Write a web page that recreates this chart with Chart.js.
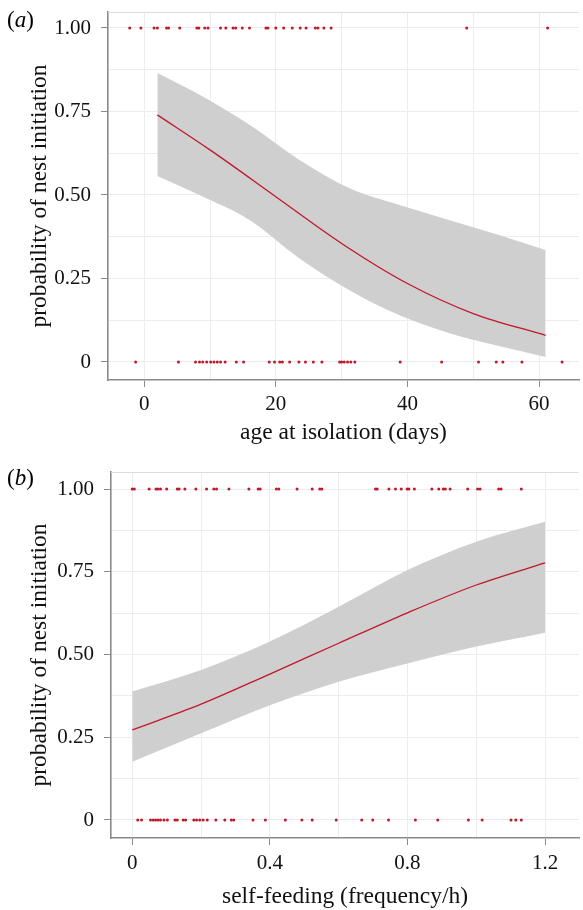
<!DOCTYPE html>
<html><head><meta charset="utf-8">
<script src="https://cdn.jsdelivr.net/npm/chart.js@4.4.0/dist/chart.umd.min.js"></script>
<style>
html,body{margin:0;padding:0;background:#fff;}
#wrap{position:relative;width:583px;height:910px;overflow:hidden;}
.panel{position:absolute;left:0;width:583px;height:455px;}
.lab{position:absolute;left:7px;font:23px 'Liberation Serif',serif;color:#000;line-height:23px;}
</style></head><body>
<div id="wrap">
<div class="panel" style="top:0"><canvas id="ca" width="583" height="455"></canvas></div>
<div class="panel" style="top:455px"><canvas id="cb" width="583" height="455"></canvas></div>
<div class="lab" style="top:8px">(<i>a</i>)</div>
<div class="lab" style="top:466px">(<i>b</i>)</div>
</div>
<script>
// ---- panel (a): age at isolation ----
const ageNestYes = [-2.2,-0.5,1.5,2.0,3.4,3.7,5.4,8.0,8.3,9.2,9.7,11.6,12.4,13.5,13.9,14.9,16.0,18.5,18.8,20.0,21.2,22.5,23.7,24.6,26.0,26.4,27.3,28.4,49.0,61.3];
const ageNestNo = [-1.3,5.2,7.8,8.4,8.9,9.5,10.1,10.6,11.1,11.6,12.3,14.0,15.1,19.0,19.8,20.6,21.0,22.1,23.5,24.5,25.7,27.0,29.7,30.0,30.4,30.9,31.4,32.0,38.9,45.2,50.8,53.5,54.5,57.4,63.5];
const ageFitX = [2,10,20,30,40,50,61];
const ageFit = [0.74,0.635,0.495,0.355,0.235,0.145,0.08];
const ageBandX = [2,8.4,16,23.6,31.2,38.8,46.3,53.9,61];
const ageUpper = [0.865,0.80,0.71,0.605,0.52,0.47,0.425,0.38,0.335];
const ageLower = [0.557,0.50,0.425,0.31,0.215,0.14,0.087,0.048,0.015];
const ageTicks = [0,10,20,30,40,50,60];
const ageTickLabels = ['0','','20','','40','','60'];

// ---- panel (b): self-feeding ----
const feedNestYes = [0.000,0.006,0.049,0.069,0.075,0.082,0.100,0.131,0.136,0.153,0.185,0.216,0.237,0.245,0.281,0.339,0.366,0.372,0.419,0.426,0.479,0.523,0.545,0.551,0.707,0.712,0.746,0.765,0.782,0.799,0.804,0.820,0.871,0.891,0.904,0.910,0.924,0.975,1.004,1.011,1.065,1.072,1.131];
const feedNestNo = [0.016,0.027,0.053,0.061,0.068,0.075,0.082,0.092,0.102,0.124,0.131,0.148,0.155,0.179,0.187,0.196,0.206,0.218,0.243,0.269,0.288,0.295,0.351,0.387,0.445,0.493,0.523,0.593,0.667,0.699,0.745,0.823,0.888,0.977,1.017,1.101,1.115,1.131];
const feedFitX = [0,0.2,0.4,0.6,0.8,1.0,1.2];
const feedFit = [0.272,0.350,0.441,0.534,0.626,0.710,0.777];
const feedUpper = [0.388,0.453,0.539,0.644,0.755,0.841,0.901];
const feedLower = [0.176,0.262,0.347,0.418,0.473,0.524,0.566];
const feedTicks = [0,0.2,0.4,0.6,0.8,1.0,1.2];
const feedTickLabels = ['0','','0.4','','0.8','','1.2'];

// ---- shared y axis ----
const probTicks = [0,0.125,0.25,0.375,0.5,0.625,0.75,0.875,1.0];
const probTickLabels = ['0','','0.25','','0.50','','0.75','','1.00'];
const yTitle = 'probability of nest initiation';

const FONT = "'Liberation Serif', 'Times New Roman', serif";
const AXIS = '#8a8a8a', GRID = '#ececec';
const RED = '#c0182a', BAND = 'rgb(207,207,207)';
const TITLE_SIZE = 23.5;

const topLine = {
  id: 'topLine',
  beforeDatasetsDraw(chart) {
    const {ctx, chartArea} = chart;
    ctx.save();
    ctx.strokeStyle = '#dcdcdc'; ctx.lineWidth = 1;
    ctx.beginPath();
    ctx.moveTo(chartArea.left, chartArea.top + 0.5);
    ctx.lineTo(chartArea.right, chartArea.top + 0.5);
    ctx.stroke();
    ctx.restore();
  }
};

function pts(xs, y) { return xs.map(x => ({x: x, y: y})); }
function xy(xs, ys) { return xs.map((x, i) => ({x: x, y: ys[i]})); }

function makeChart(id, o) {
  new Chart(document.getElementById(id), {
    type: 'line',
    data: {
      datasets: [
        {data: pts(o.yes, 1), showLine: false, pointRadius: 1.5, pointBackgroundColor: RED, pointBorderWidth: 0, order: 0},
        {data: pts(o.no, 0), showLine: false, pointRadius: 1.5, pointBackgroundColor: RED, pointBorderWidth: 0, order: 0},
        {data: xy(o.fitX, o.fit), borderColor: RED, borderWidth: 1.3, pointRadius: 0, cubicInterpolationMode: 'monotone', fill: false, order: 1},
        {data: xy(o.bandX, o.upper), borderWidth: 0, borderColor: 'rgba(0,0,0,0)', pointRadius: 0, cubicInterpolationMode: 'monotone', fill: '+1', backgroundColor: BAND, order: 2},
        {data: xy(o.bandX, o.lower), borderWidth: 0, borderColor: 'rgba(0,0,0,0)', pointRadius: 0, cubicInterpolationMode: 'monotone', fill: false, order: 2}
      ]
    },
    plugins: [topLine],
    options: {
      responsive: false, animation: false,
      layout: {padding: {top: o.padTop, right: 3, left: 0, bottom: 0}},
      plugins: {legend: {display: false}, tooltip: {enabled: false}},
      scales: {
        x: {
          type: 'linear', min: o.xMin, max: o.xMax,
          afterBuildTicks: s => { s.ticks = o.xTicks.map(v => ({value: v})); },
          afterFit: s => { s.height = o.xAxisH; s.paddingLeft = 0; s.paddingRight = 0; },
          grid: {color: GRID, lineWidth: 1, drawTicks: true, tickLength: 7,
                 tickColor: c => o.xLabels[c.index] ? AXIS : 'rgba(0,0,0,0)'},
          border: {display: true, color: AXIS, width: 1.6},
          ticks: {autoSkip: false, maxRotation: 0, padding: o.xTickPad, color: '#111',
                  font: {family: FONT, size: 21, lineHeight: 1},
                  callback: (v, i) => o.xLabels[i]},
          title: {display: true, text: o.xTitle, color: '#111',
                  font: {family: FONT, size: TITLE_SIZE, lineHeight: 1},
                  padding: {top: 0, bottom: o.xTitlePad}}
        },
        y: {
          type: 'linear', min: o.yMin, max: o.yMax,
          afterBuildTicks: s => { s.ticks = probTicks.map(v => ({value: v})); },
          afterFit: s => { s.width = o.yAxisW; s.paddingTop = 0; s.paddingBottom = 0; },
          grid: {color: GRID, lineWidth: 1, drawTicks: true, tickLength: 7,
                 tickColor: c => probTickLabels[c.index] ? AXIS : 'rgba(0,0,0,0)'},
          border: {display: true, color: AXIS, width: 1.6},
          ticks: {autoSkip: false, padding: 10, color: '#111',
                  font: {family: FONT, size: 21, lineHeight: 1},
                  callback: (v, i) => probTickLabels[i]},
          title: {display: true, text: yTitle, color: '#111',
                  font: {family: FONT, size: TITLE_SIZE, lineHeight: 1},
                  padding: {top: 28.25, bottom: 0}}
        }
      }
    }
  });
}

makeChart('ca', {
  yes: ageNestYes, no: ageNestNo, fitX: ageFitX, fit: ageFit,
  bandX: ageBandX, upper: ageUpper, lower: ageLower,
  xTicks: ageTicks, xLabels: ageTickLabels, xTitle: 'age at isolation (days)',
  xMin: -5.5, xMax: 66.07, yMin: -0.0539, yMax: 1.0479,
  padTop: 12, xAxisH: 75, yAxisW: 108, xTickPad: 6.5, xTitlePad: 10.25
});
makeChart('cb', {
  yes: feedNestYes, no: feedNestNo, fitX: feedFitX, fit: feedFit,
  bandX: feedFitX, upper: feedUpper, lower: feedLower,
  xTicks: feedTicks, xLabels: feedTickLabels, xTitle: 'self-feeding (frequency/h)',
  xMin: -0.0618, xMax: 1.2986, yMin: -0.0544, yMax: 1.0514,
  padTop: 17, xAxisH: 72, yAxisW: 111, xTickPad: 7.8, xTitlePad: 1.25
});
</script>
</body></html>
